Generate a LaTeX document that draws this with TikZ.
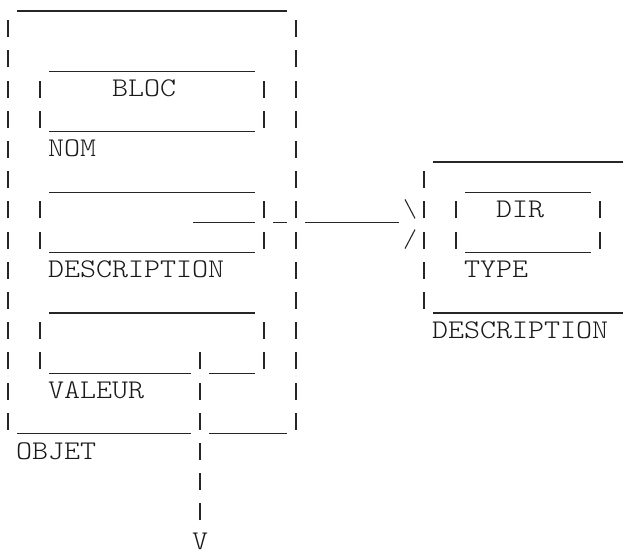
\documentclass[tikz,border=0pt]{standalone}
\usepackage{fontspec}
% thin typewriter face, widened to a 16pt character cell
\newfontfamily\asciifont{lmmonolt10-regular.otf}[FakeStretch=1.129]

% character grid: column c starts at 16c, row r has its baseline at 6+30.2r
\newcommand\cellx[1]{16*(#1)}
\newcommand\baseln[1]{6+30.2*(#1)}
% a typed vertical bar in column #1, row #2
\newcommand\asciibar[2]{\draw[glyph] ({16*(#1)+8},{6+30.2*(#2)+1}) -- ++(0,-17);}
% a run of underscores from column #1 to column #2 in row #3
\newcommand\asciirule[3]{\draw[glyph] ({16*(#1)+1},{6+30.2*(#3)+5}) -- ({16*(#2)+15},{6+30.2*(#3)+5});}

\begin{document}
\begin{tikzpicture}[x=1pt,y=-1pt,
  glyph/.style={draw=black!85,line width=1.1pt},
  lbl/.style={inner sep=0pt,anchor=base west,text=black!90,
    font=\asciifont\fontsize{27pt}{30pt}\selectfont}]
\useasboundingbox (0,0) rectangle (632,553);

% ---- OBJET frame ----
\asciirule{1}{17}{0}
\foreach \r in {1,...,14} {\asciibar{0}{\r}\asciibar{18}{\r}}
\asciirule{1}{11}{14}
\asciirule{13}{17}{14}
\node[lbl] (objet) at ({\cellx{1}},{\baseln{15}}) {OBJET};

% ---- BLOC box ----
\asciirule{3}{15}{2}
\asciibar{2}{3}\asciibar{16}{3}
\asciibar{2}{4}\asciibar{16}{4}
\asciirule{3}{15}{4}
\node[lbl] (bloc) at ({\cellx{7}},{\baseln{3}}) {BLOC};
\node[lbl] (nom) at ({\cellx{3}},{\baseln{5}}) {NOM};

% ---- DESCRIPTION box ----
\asciirule{3}{15}{6}
\asciibar{2}{7}\asciibar{16}{7}
\asciibar{2}{8}\asciibar{16}{8}
\asciirule{3}{15}{8}
\node[lbl] (desc) at ({\cellx{3}},{\baseln{9}}) {DESCRIPTION};

% link out of the DESCRIPTION box to the right-hand DESCRIPTION
\asciirule{12}{15}{7}
\asciirule{17}{17}{7}
\asciirule{19}{24}{7}
\draw[glyph] ({\cellx{25}+5},{\baseln{7}-18}) -- ({\cellx{25}+15},{\baseln{7}+1});
\draw[glyph] ({\cellx{25}+5},{\baseln{8}+1}) -- ({\cellx{25}+15},{\baseln{8}-18});

% ---- VALEUR box ----
\asciirule{3}{15}{10}
\asciibar{2}{11}\asciibar{16}{11}
\asciibar{2}{12}\asciibar{16}{12}
\asciirule{3}{11}{12}
\asciirule{13}{15}{12}
\node[lbl] (valeur) at ({\cellx{3}},{\baseln{13}}) {VALEUR};

% link down out of the VALEUR box
\foreach \r in {12,...,17} {\asciibar{12}{\r}}
\node[lbl] (v) at ({\cellx{12}},{\baseln{18}}) {V};

% ---- right-hand DESCRIPTION frame ----
\asciirule{27}{38}{5}
\foreach \r in {6,...,10} {\asciibar{26}{\r}}
\asciirule{27}{38}{10}
\node[lbl] (desc2) at ({\cellx{27}},{\baseln{11}}) {DESCRIPTION};

% ---- DIR box ----
\asciirule{29}{36}{6}
\asciibar{28}{7}\asciibar{37}{7}
\asciibar{28}{8}\asciibar{37}{8}
\asciirule{29}{36}{8}
\node[lbl] (dir) at ({\cellx{31}},{\baseln{7}}) {DIR};
\node[lbl] (type) at ({\cellx{29}},{\baseln{9}}) {TYPE};
\end{tikzpicture}
\end{document}
